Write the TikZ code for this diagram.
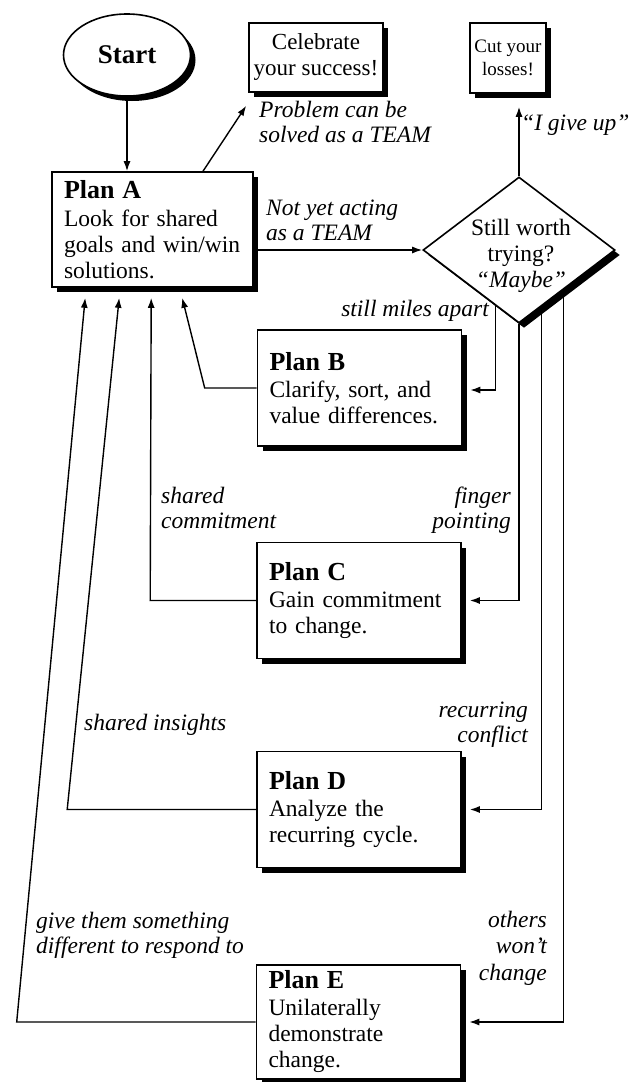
\documentclass[tikz,border=0pt]{standalone}
\usepackage{fontspec}
\setmainfont{Liberation Serif}
\usetikzlibrary{shapes.geometric,shadows,arrows.meta,calc}
\begin{document}
\begin{tikzpicture}[x=1pt,y=-1pt,
  lab/.style={font=\fontsize{23.5}{25}\selectfont\itshape, inner sep=0pt, align=left},
  labr/.style={lab, align=right},
  shad/.style={drop shadow={shadow xshift=5pt,shadow yshift=-5pt,fill=black,opacity=1}},
  plan/.style={draw, line width=1.6pt, fill=white, shad, minimum width=204pt, minimum height=116pt,
    text width=180pt, inner xsep=12pt, inner ysep=0pt, align=left, font=\fontsize{23.5}{26}\selectfont},
  endbox/.style={draw, line width=1.6pt, fill=white, shad, align=center, inner sep=0pt},
  conn/.style={line width=1.4pt},
  arr/.style={conn, -{Latex[length=10pt,width=7pt]}},
]
\fill[white] (0,0) rectangle (629,1082);
\useasboundingbox (0,0) rectangle (629,1082);

% nodes
\node[draw, ellipse, line width=1.6pt, fill=white, shad, minimum width=127pt, minimum height=82pt,
  inner sep=0pt, font=\bfseries\fontsize{27}{30}\selectfont] (S) at (127,55) {Start};
\node[endbox, minimum width=134pt, minimum height=69pt, font=\fontsize{23}{26}\selectfont] (cel) at (316,57.5) {Celebrate\\your success!};
\node[endbox, minimum width=76pt, minimum height=70pt, font=\fontsize{19}{23}\selectfont] (cut) at (508,58) {Cut your\\losses!};

\node[plan, minimum width=201pt, minimum height=115pt, text width=177pt] (pa) at (152.5,229.5)
  {\textbf{\fontsize{26}{28}\selectfont Plan A}\\[2pt] Look for shared\\goals and win/win\\solutions.};
\node[plan] (pb) at (359.5,388) {\textbf{\fontsize{26}{28}\selectfont Plan B}\\[1pt] Clarify, sort, and\\value differences.};
\node[plan] (pc) at (359,600.5) {\textbf{\fontsize{26}{28}\selectfont Plan C}\\[1pt] Gain commitment\\to change.};
\node[plan] (pd) at (359,809.5) {\textbf{\fontsize{26}{28}\selectfont Plan D}\\[1pt] Analyze the\\recurring cycle.};
\node[plan, minimum height=114pt] (pe) at (358.5,1022) {\textbf{\fontsize{26}{28}\selectfont Plan E}\\[1pt] Unilaterally\\demonstrate\\change.};

\node[draw, diamond, line width=1.6pt, fill=white, shad, minimum width=192pt, minimum height=146pt, inner sep=0pt] (dia) at (519,250) {};
\node[font=\fontsize{23.5}{26}\selectfont, align=center, inner sep=0pt] (diat) at (521,256) {Still worth\\trying?\\\textit{“Maybe”}};

% labels (anchored at the baseline of their last line)
\node[lab, anchor=base west] (l1) at (259,142) {Problem can be\\solved as a TEAM};
\node[lab, anchor=base west] (l2) at (266,240) {Not yet acting\\as a TEAM};
\node[lab, anchor=base west] (l3) at (521,130) {“I give up”};
\node[lab, anchor=base east] (l4) at (489,316) {still miles apart};
\node[labr, anchor=base east] (l5) at (511,528) {finger\\pointing};
\node[lab, anchor=base west] (l6) at (161,528) {shared\\commitment};
\node[lab, anchor=base west] (l7) at (84,730) {shared insights};
\node[labr, anchor=base east] (l8) at (528,742) {recurring\\conflict};
\node[lab, anchor=base west] (l9) at (36,953) {give them something\\different to respond to};
\node[labr, anchor=base east, font=\fontsize{23.5}{26.5}\selectfont\itshape] (l10) at (547,980) {others\\won't\\change};

% connectors
\draw[arr] (S.south) -- (S.south |- pa.north);
\draw[arr] ([xshift=50.5pt]pa.north) -- ($(cel.south west)+(-2,13)$);
\draw[arr] (dia.west -| pa.east) -- (dia.west);
\draw[arr] (dia.north) -- ($(dia.north |- cut.south)+(0,13)$);

\draw[arr] ($(dia.west)!0.76!(dia.south)$) |- ($(pb.east)+(8,2)$);
\draw[arr] (dia.south) |- ($(pc.east)+(8,0)$);
\draw[arr] ($(dia.south)!0.23!(dia.east)$) |- ($(pd.east)+(8,0)$);
\draw[arr] ($(dia.south)!0.46!(dia.east)$) |- ($(pe.east)+(8,0)$);

\draw[arr] (pb.west) -- ++(-52,0) -- ($(pa.south west)+(131,10)$);
\draw[arr] (pc.west) -- ++(-106,0) -- ($(pa.south west)+(100,10)$);
\draw[arr] (pd.west) -- ++(-189,0) -- ($(pa.south west)+(68,10)$);
\draw[arr] (pe.west) -- ++(-239,0) -- ($(pa.south west)+(34,10)$);
\end{tikzpicture}
\end{document}
